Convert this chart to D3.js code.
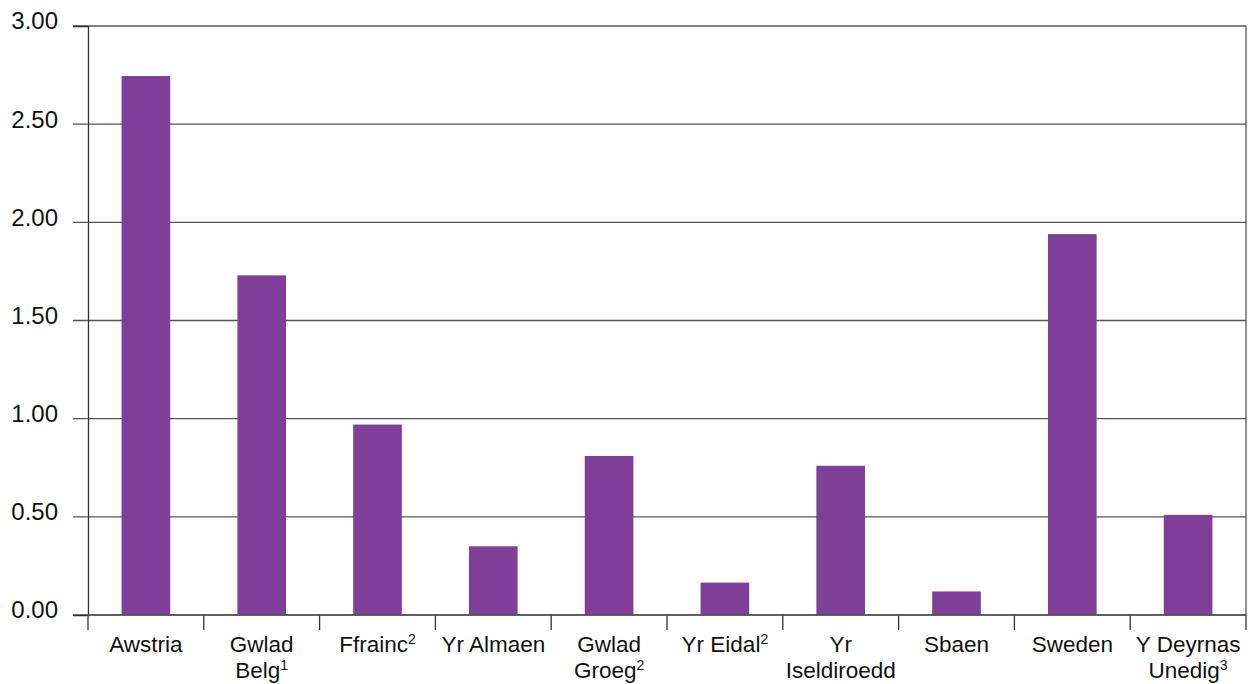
<!doctype html>
<html>
<head>
<script src="https://cdn.jsdelivr.net/npm/d3@7"></script>
<style>
  body { margin: 0; background: #fff; }
  svg { display: block; }
  .tick text { font-family: "Liberation Sans", Arial, sans-serif; font-size: 22.5px; fill: #111; }
  .yax .tick text { font-size: 24px; }
</style>
</head>
<body>
<script>
  var countries = ["Awstria", "Gwlad|Belg", "Ffrainc", "Yr Almaen", "Gwlad|Groeg", "Yr Eidal", "Yr|Iseldiroedd", "Sbaen", "Sweden", "Y Deyrnas|Unedig"];
  var notes = ["", "1", "2", "", "2", "2", "", "", "", "3"];
  var values = [2.745, 1.73, 0.97, 0.35, 0.81, 0.165, 0.76, 0.12, 1.94, 0.51];
  var yTicks = [0, 0.5, 1, 1.5, 2, 2.5, 3];

  var width = 1248, height = 684;
  var margin = {top: 26, right: 2, bottom: 69, left: 88};
  var w = width - margin.left - margin.right,
      h = height - margin.top - margin.bottom;

  var svg = d3.select("body").append("svg").attr("width", width).attr("height", height);
  var g = svg.append("g").attr("transform", "translate(" + margin.left + "," + margin.top + ")");

  var x = d3.scaleBand().domain(countries).range([0, w]).paddingInner(0.58).paddingOuter(0.29);
  var xb = d3.scaleBand().domain(countries).range([0, w]);
  var y = d3.scaleLinear().domain([0, 3]).range([h, 0]);

  // grid
  g.append("g").selectAll("line").data(yTicks).enter().append("line")
    .attr("x1", -15).attr("x2", w)
    .attr("y1", function(d) { return y(d); }).attr("y2", function(d) { return y(d); })
    .attr("stroke", "#555").attr("stroke-width", 1.3);

  // bars
  g.append("g").selectAll("rect").data(values).enter().append("rect")
    .attr("x", function(d, i) { return x(countries[i]); })
    .attr("width", x.bandwidth())
    .attr("y", function(d) { return y(d); })
    .attr("height", function(d) { return h - y(d); })
    .attr("fill", "#7f3f98");

  // y axis
  var yAxis = g.append("g").attr("class", "yax")
    .call(d3.axisLeft(y).tickValues(yTicks).tickFormat(d3.format(".2f")).tickSize(15).tickPadding(15));
  yAxis.select(".domain").attr("stroke", "#333").attr("stroke-width", 1.3);
  yAxis.selectAll(".tick line").remove();
  yAxis.selectAll(".tick text").attr("dy", "0.12em");

  // right border
  g.append("line").attr("x1", w).attr("x2", w).attr("y1", 0).attr("y2", h)
    .attr("stroke", "#555").attr("stroke-width", 1.3);

  // x axis ticks at band boundaries
  var bounds = countries.map(function(c) { return xb(c); }).concat([w]);
  g.append("g").selectAll("line").data(bounds).enter().append("line")
    .attr("x1", function(d) { return d; }).attr("x2", function(d) { return d; })
    .attr("y1", h).attr("y2", h + 15)
    .attr("stroke", "#333").attr("stroke-width", 1.3);
  g.append("line").attr("x1", 0).attr("x2", w).attr("y1", h).attr("y2", h)
    .attr("stroke", "#555").attr("stroke-width", 1.3);

  // x labels
  var lab = g.append("g").attr("class", "tick").selectAll("text").data(countries).enter().append("text")
    .attr("text-anchor", "middle")
    .attr("transform", function(c) { return "translate(" + (xb(c) + xb.bandwidth() / 2) + "," + (h + 37) + ")"; });
  lab.each(function(c, i) {
    var t = d3.select(this), parts = c.split("|");
    parts.forEach(function(p, j) {
      t.append("tspan").attr("x", 0).attr("y", j * 26).text(p);
      if (j === parts.length - 1 && notes[i]) {
        t.append("tspan").attr("font-size", "14px").attr("dy", "-8").text(notes[i]);
      }
    });
  });
</script>
</body>
</html>
